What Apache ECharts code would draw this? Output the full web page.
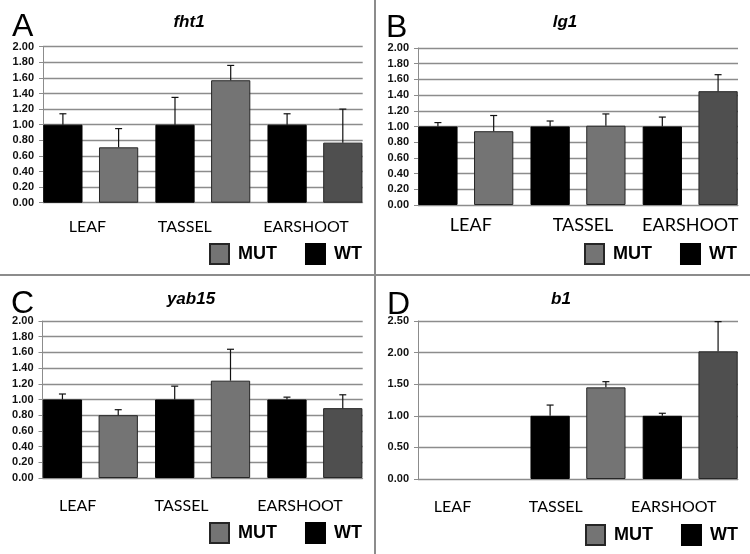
<!DOCTYPE html>
<html><head><meta charset="utf-8">
<script src="https://cdn.jsdelivr.net/npm/echarts@6/dist/echarts.min.js"></script>
<style>html,body{margin:0;padding:0;background:#fff}#c{width:750px;height:554px}</style>
</head><body><div id="c"></div>
<script>
// ---- data ----
const categories = ['LEAF', 'TASSEL', 'EARSHOOT'];
const legendNames = ['MUT', 'WT'];
const panelLetters = ['A', 'B', 'C', 'D'];
const geneNames = ['fht1', 'lg1', 'yab15', 'b1'];

const fht1WT = [1.00, 1.00, 1.00];
const fht1MUT = [0.71, 1.57, 0.77];
const fht1WTErr = [0.14, 0.35, 0.14];
const fht1MUTErr = [0.24, 0.19, 0.43];

const lg1WT = [1.00, 1.00, 1.00];
const lg1MUT = [0.94, 1.01, 1.45];
const lg1WTErr = [0.05, 0.07, 0.12];
const lg1MUTErr = [0.20, 0.15, 0.21];

const yab15WT = [1.00, 1.00, 1.00];
const yab15MUT = [0.80, 1.24, 0.89];
const yab15WTErr = [0.07, 0.17, 0.03];
const yab15MUTErr = [0.07, 0.40, 0.17];

const b1WT = [null, 1.00, 1.00];
const b1MUT = [null, 1.45, 2.02];
const b1WTErr = [null, 0.17, 0.04];
const b1MUTErr = [null, 0.09, 0.47];

const yMaxes = [2.0, 2.0, 2.0, 2.5];
const yIntervals = [0.2, 0.2, 0.2, 0.5];

// ---- layout / style ----
const panels = [
  {wt: fht1WT, mut: fht1MUT, wtErr: fht1WTErr, mutErr: fht1MUTErr,
   plot: {l: 43, r: 362.7, t: 46.7, b: 202.7}, titleX: 189, titleY: 14, letterX: 12, letterY: 11,
   legend: {x: 209, y: 243}, labelShift: [-8.8, -18, -3.5], labelSize: 16, labelMargin: 16.5},
  {wt: lg1WT, mut: lg1MUT, wtErr: lg1WTErr, mutErr: lg1MUTErr,
   plot: {l: 418, r: 738, t: 48, b: 205}, titleX: 565, titleY: 14, letterX: 386, letterY: 12,
   legend: {x: 584, y: 243}, labelShift: [-0.5, 5, 5.5], labelSize: 18, labelMargin: 11},
  {wt: yab15WT, mut: yab15MUT, wtErr: yab15WTErr, mutErr: yab15MUTErr,
   plot: {l: 42.5, r: 362.7, t: 321, b: 478}, titleX: 191, titleY: 291, letterX: 11, letterY: 288,
   legend: {x: 209, y: 522}, labelShift: [-18.2, -21, -9.4], labelSize: 16, labelMargin: 20},
  {wt: b1WT, mut: b1MUT, wtErr: b1WTErr, mutErr: b1MUTErr,
   plot: {l: 418, r: 738, t: 321, b: 479}, titleX: 561, titleY: 291, letterX: 387, letterY: 289,
   legend: {x: 585, y: 524}, labelShift: [-18.8, -22.2, -11], labelSize: 16, labelMargin: 19.5}
];

const EDGE = 8.3;          // bar grid extends beyond the plotted gridlines
const BAR_W = 0.35;        // bar width as fraction of category band
const BAR_GAP = 0.42;      // gap between paired bars as fraction of bar width
const WT_COLOR = '#000000';
const MUT_COLOR = '#747474';
const MUT_DARK = '#4f4f4f';
const GRID_COLOR = '#8c8c8c';

const option = {
  animation: false,
  backgroundColor: '#ffffff',
  title: [], legend: [], grid: [], xAxis: [], yAxis: [], series: [],
  graphic: [
    {type: 'line', shape: {x1: 375, y1: 0, x2: 375, y2: 554}, style: {stroke: GRID_COLOR, lineWidth: 2}, silent: true},
    {type: 'line', shape: {x1: 0, y1: 275, x2: 750, y2: 275}, style: {stroke: GRID_COLOR, lineWidth: 2}, silent: true}
  ]
};

panels.forEach((p, i) => {
  const w = p.plot.r - p.plot.l, h = p.plot.b - p.plot.t;
  const gBg = 2 * i, gBar = 2 * i + 1;
  option.grid.push({left: p.plot.l, top: p.plot.t, width: w, height: h, containLabel: false, outerBoundsMode: 'none'});
  option.grid.push({left: p.plot.l - EDGE, top: p.plot.t, width: w + 2 * EDGE, height: h, containLabel: false, outerBoundsMode: 'none'});

  const rich = {};
  categories.forEach((c, k) => {
    const s = p.labelShift[k];
    rich['c' + k] = {
      fontFamily: 'Lato, "Liberation Sans", Arial, sans-serif', fontSize: p.labelSize, color: '#000',
      padding: s < 0 ? [0, -2 * s, 0, 0] : [0, 0, 0, 2 * s]
    };
  });
  option.xAxis.push({
    type: 'category', gridIndex: gBg, data: categories,
    axisLine: {show: true, lineStyle: {color: GRID_COLOR, width: 1}},
    axisTick: {show: false},
    axisLabel: {margin: p.labelMargin, interval: 0, formatter: (v, k) => '{c' + k + '|' + v + '}', rich: rich}
  });
  option.xAxis.push({type: 'category', gridIndex: gBar, data: categories, show: false});

  const yCommon = {type: 'value', min: 0, max: yMaxes[i], interval: yIntervals[i]};
  option.yAxis.push(Object.assign({}, yCommon, {
    gridIndex: gBg,
    axisLine: {show: true, lineStyle: {color: GRID_COLOR, width: 1}},
    axisTick: {show: true, length: 4, lineStyle: {color: GRID_COLOR}},
    axisLabel: {margin: 9, color: '#111', fontWeight: 'bold', fontSize: 11,
      fontFamily: '"Liberation Sans", Arial, sans-serif', formatter: v => v.toFixed(2)},
    splitLine: {show: true, lineStyle: {color: GRID_COLOR, width: 1.3}}
  }));
  option.yAxis.push(Object.assign({}, yCommon, {gridIndex: gBar, show: false, splitLine: {show: false}}));

  option.series.push({
    name: 'WT', type: 'bar', xAxisIndex: gBar, yAxisIndex: gBar,
    barWidth: (BAR_W * 100) + '%', barGap: (BAR_GAP * 100) + '%',
    itemStyle: {color: WT_COLOR, borderColor: '#000', borderWidth: 1},
    data: p.wt
  });
  option.series.push({
    name: 'MUT', type: 'bar', xAxisIndex: gBar, yAxisIndex: gBar,
    barWidth: (BAR_W * 100) + '%', barGap: (BAR_GAP * 100) + '%',
    itemStyle: {color: MUT_COLOR, borderColor: '#262626', borderWidth: 1},
    data: p.mut.map((v, k) => k === 2 ? {value: v, itemStyle: {color: MUT_DARK}} : v)
  });

  const errData = [];
  categories.forEach((c, k) => {
    if (p.wt[k] != null) errData.push([k, p.wt[k], p.wtErr[k], 0]);
    if (p.mut[k] != null) errData.push([k, p.mut[k], p.mutErr[k], 1]);
  });
  option.series.push({
    type: 'custom', xAxisIndex: gBar, yAxisIndex: gBar, z: 5, silent: true,
    encode: {x: 0, y: 1},
    data: errData,
    renderItem: function (params, api) {
      const cat = api.value(0), val = api.value(1), err = api.value(2), slot = api.value(3);
      const base = api.coord([cat, val]);
      const top = api.coord([cat, val + err]);
      const band = api.size([1, 0])[0];
      const bw = band * BAR_W, gap = bw * BAR_GAP;
      const x = base[0] + (slot === 0 ? -1 : 1) * (bw + gap) / 2;
      const st = {stroke: '#111', lineWidth: 1.2};
      return {type: 'group', children: [
        {type: 'line', shape: {x1: x, y1: base[1], x2: x, y2: top[1]}, style: st},
        {type: 'line', shape: {x1: x - 3.5, y1: top[1], x2: x + 3.5, y2: top[1]}, style: st}
      ]};
    }
  });

  option.title.push({
    text: geneNames[i], left: p.titleX, top: p.titleY, textAlign: 'center', padding: 0,
    textStyle: {fontFamily: '"Liberation Sans", Arial, sans-serif', fontSize: 17, fontWeight: 'bold', fontStyle: 'italic', color: '#000'}
  });
  option.title.push({
    text: panelLetters[i], left: p.letterX, top: p.letterY, padding: 0,
    textStyle: {fontFamily: '"Liberation Sans", Arial, sans-serif', fontSize: 32, fontWeight: 'normal', color: '#000'}
  });
  option.legend.push({
    data: legendNames, left: p.legend.x, top: p.legend.y, padding: 0, orient: 'horizontal',
    itemWidth: 19, itemHeight: 20, itemGap: 28, icon: 'rect', selectedMode: false,
    textStyle: {fontFamily: '"Liberation Sans", Arial, sans-serif', fontSize: 18, fontWeight: 'bold', color: '#000', padding: [0, 0, 0, 4]}
  });
});

const chart = echarts.init(document.getElementById('c'), null, {renderer: 'canvas'});
chart.setOption(option);
</script></body></html>
